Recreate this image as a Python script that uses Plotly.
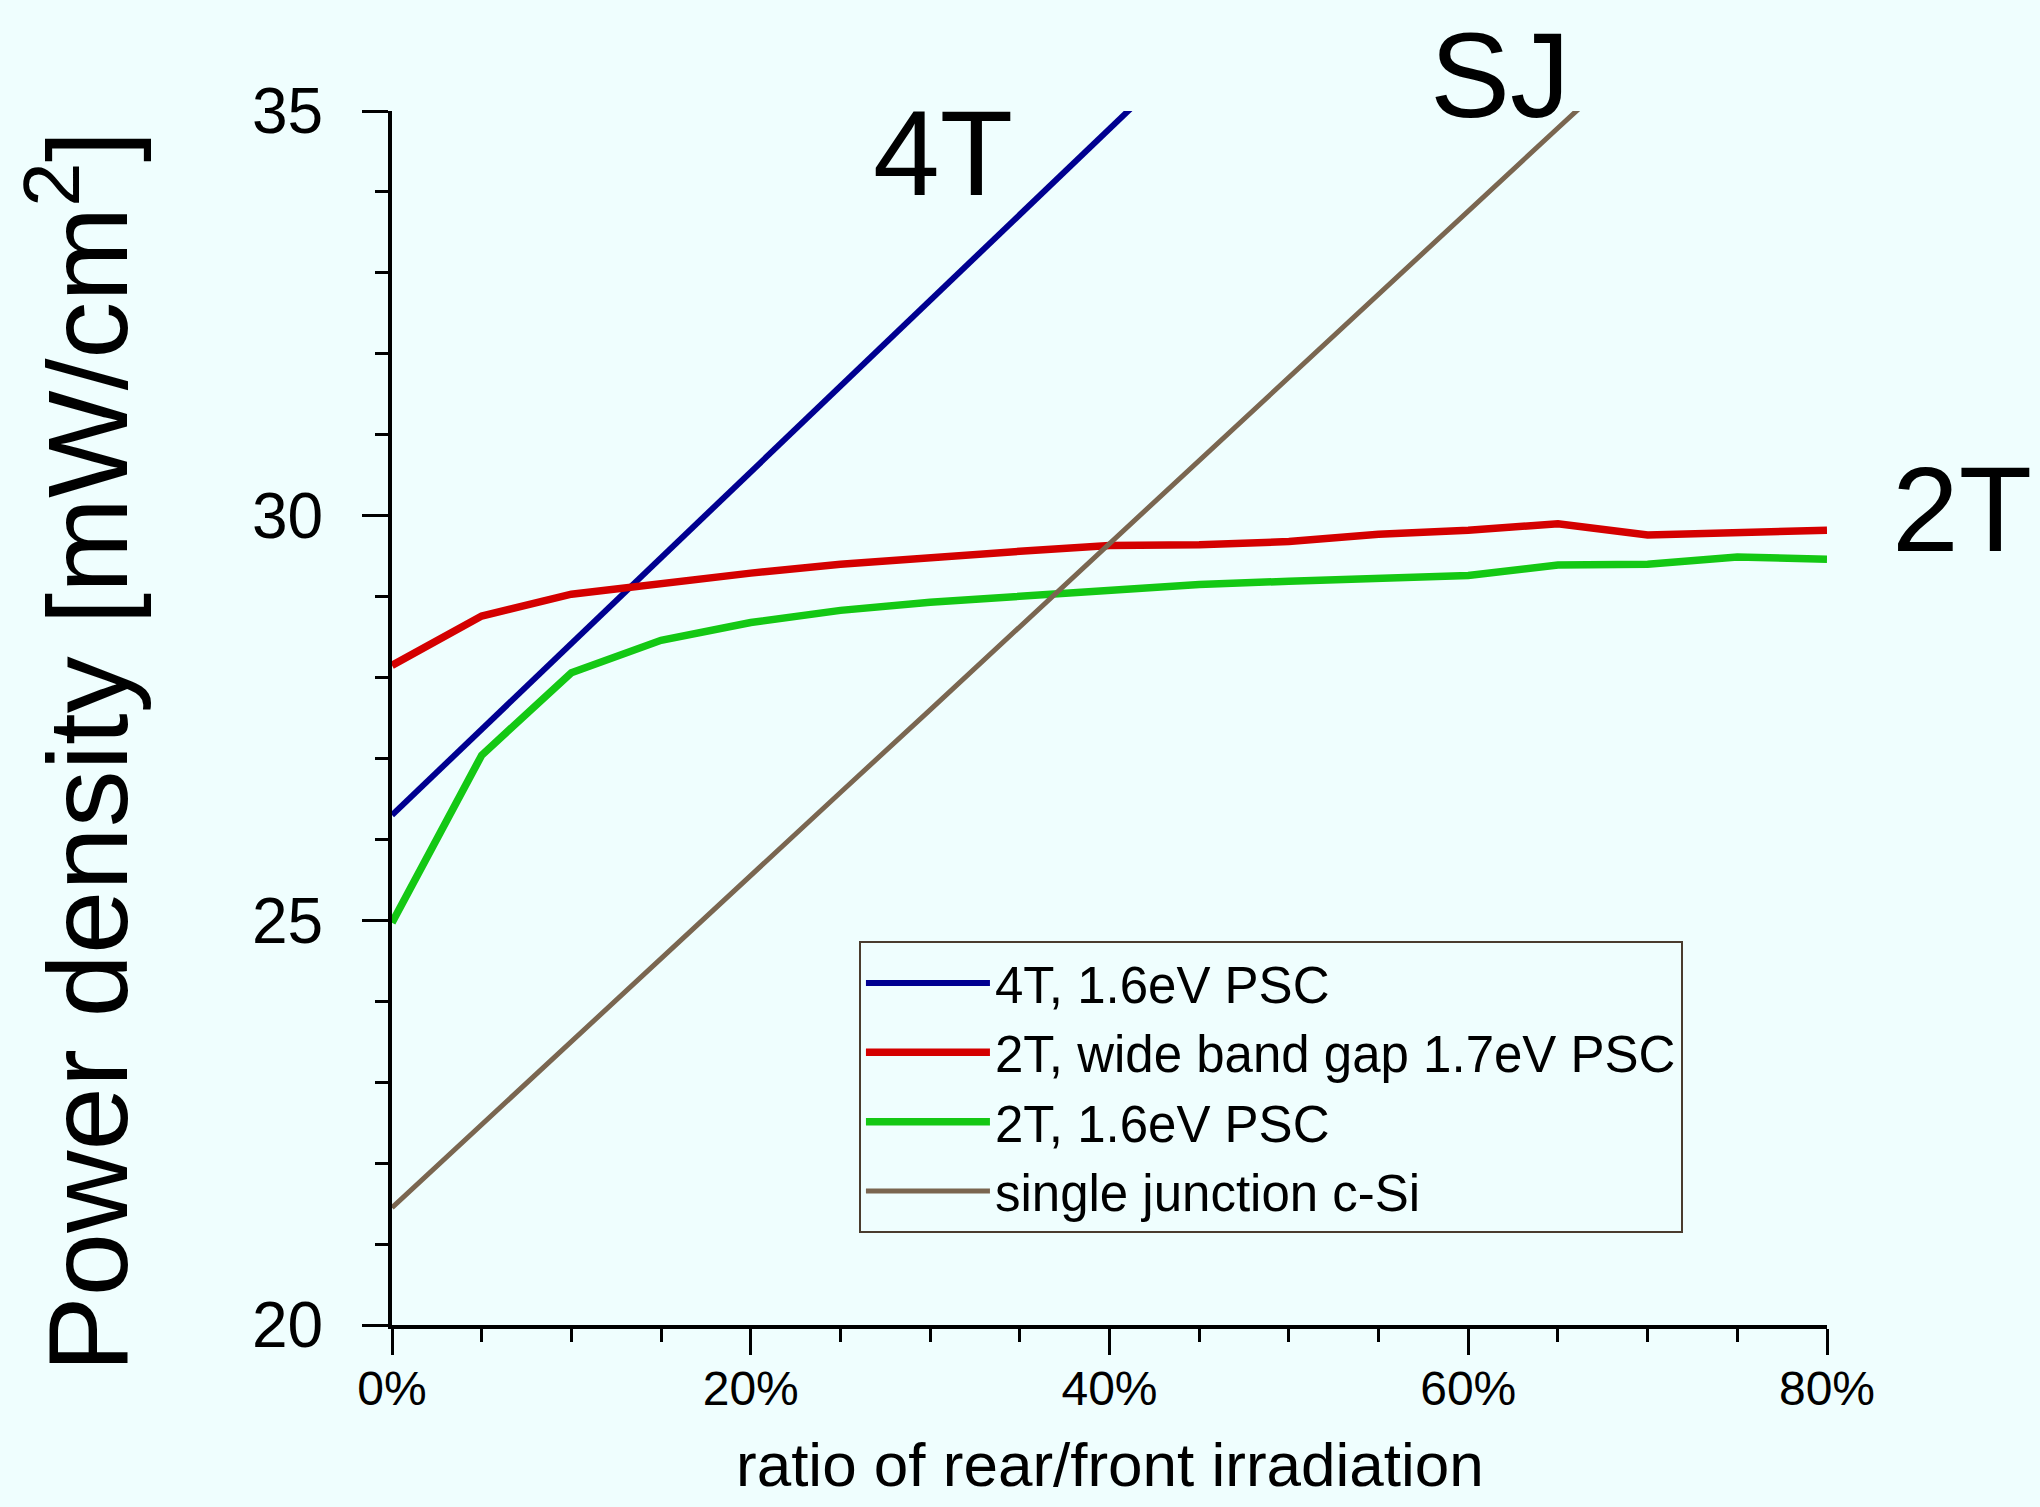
import plotly.graph_objects as go

# ---- data ----
ratio_pct = [0, 5, 10, 15, 20, 25, 30, 35, 40, 45, 50, 55, 60, 65, 70, 75, 80]

four_t_x = [0, 5, 10, 15, 20, 25, 30, 35, 40, 45]
four_t_16 = [26.30, 27.36, 28.42, 29.48, 30.54, 31.60, 32.66, 33.72, 34.78, 35.84]

two_t_17 = [28.15, 28.76, 29.03, 29.17, 29.29, 29.40, 29.49, 29.56, 29.63, 29.64,
            29.68, 29.77, 29.82, 29.90, 29.76, 29.80, 29.82]

two_t_16 = [24.97, 27.04, 28.06, 28.46, 28.68, 28.83, 28.93, 29.00, 29.08, 29.15,
            29.19, 29.23, 29.26, 29.39, 29.40, 29.49, 29.46]

sj_x = [0, 5, 10, 15, 20, 25, 30, 35, 40, 45, 50, 55, 60, 65, 70]
sj_csi = [21.45, 22.48, 23.50, 24.53, 25.55, 26.58, 27.60, 28.63, 29.66, 30.68,
          31.71, 32.73, 33.76, 34.79, 35.81]

series_names = ["4T, 1.6eV PSC", "2T, wide band gap 1.7eV PSC",
                "2T, 1.6eV PSC", "single junction c-Si"]
x_tick_vals = [0, 20, 40, 60, 80]
x_tick_text = ["0%", "20%", "40%", "60%", "80%"]
y_tick_vals = [20, 25, 30, 35]

FONT = "Liberation Sans, Arial, sans-serif"
BG = "#effefe"

fig = go.Figure()
fig.add_trace(go.Scatter(x=four_t_x, y=four_t_16, mode="lines", name=series_names[0],
                         line=dict(color="#000090", width=6)))
fig.add_trace(go.Scatter(x=ratio_pct, y=two_t_17, mode="lines", name=series_names[1],
                         line=dict(color="#d40000", width=7.5)))
fig.add_trace(go.Scatter(x=ratio_pct, y=two_t_16, mode="lines", name=series_names[2],
                         line=dict(color="#14c814", width=7.5)))
fig.add_trace(go.Scatter(x=sj_x, y=sj_csi, mode="lines", name=series_names[3],
                         line=dict(color="#7a6650", width=5)))

L, R, T, B = 392, 213, 111, 182

fig.update_layout(
    width=2040, height=1507,
    margin=dict(l=L, r=R, t=T, b=B, autoexpand=False),
    paper_bgcolor=BG, plot_bgcolor=BG,
    font=dict(family=FONT, color="black"),
    showlegend=True,
    legend=dict(
        x=0.3254, y=0.316, xanchor="left", yanchor="top",
        bgcolor="rgba(0,0,0,0)", bordercolor="#4a3c2e", borderwidth=2,
        font=dict(family=FONT, size=51, color="black"),
        itemwidth=124, tracegroupgap=0,
    ),
    xaxis=dict(
        range=[0, 80], tickvals=x_tick_vals, ticktext=x_tick_text,
        showgrid=False, zeroline=False,
        showline=True, linecolor="black", linewidth=4,
        ticks="outside", ticklen=26, tickwidth=3, tickcolor="black",
        tickfont=dict(family=FONT, size=48, color="black"),
        ticklabelstandoff=-8,
        minor=dict(dtick=5, ticks="outside", ticklen=13, tickwidth=3, tickcolor="black", showgrid=False),
    ),
    yaxis=dict(
        range=[20, 35], tickvals=y_tick_vals,
        showgrid=False, zeroline=False,
        showline=True, linecolor="black", linewidth=4,
        ticks="outside", ticklen=26, tickwidth=3, tickcolor="black",
        tickfont=dict(family=FONT, size=64, color="black"),
        ticklabelstandoff=26,
        minor=dict(dtick=1, ticks="outside", ticklen=13, tickwidth=3, tickcolor="black", showgrid=False),
    ),
)

annotations = [
    dict(text="Power density [mW/cm<sup>2</sup>]", x=-0.2185, y=0.473, textangle=-90,
         font=dict(family=FONT, size=114, color="black")),
    dict(text="ratio of rear/front irradiation", x=0.5, y=-0.1145,
         font=dict(family=FONT, size=62, color="black")),
    dict(text="4T", x=0.384, y=0.9654, font=dict(family=FONT, size=120, color="black")),
    dict(text="SJ", x=0.772, y=1.030, font=dict(family=FONT, size=120, color="black")),
    dict(text="2T", x=1.094, y=0.672, font=dict(family=FONT, size=120, color="black")),
]
for a in annotations:
    a.update(xref="paper", yref="paper", showarrow=False, xanchor="center", yanchor="middle")
fig.update_layout(annotations=annotations)

fig.write_html(
    "out.html",
    config={"displayModeBar": False},
    post_script="document.body.style.margin='0';document.body.style.background='%s';" % BG,
)
